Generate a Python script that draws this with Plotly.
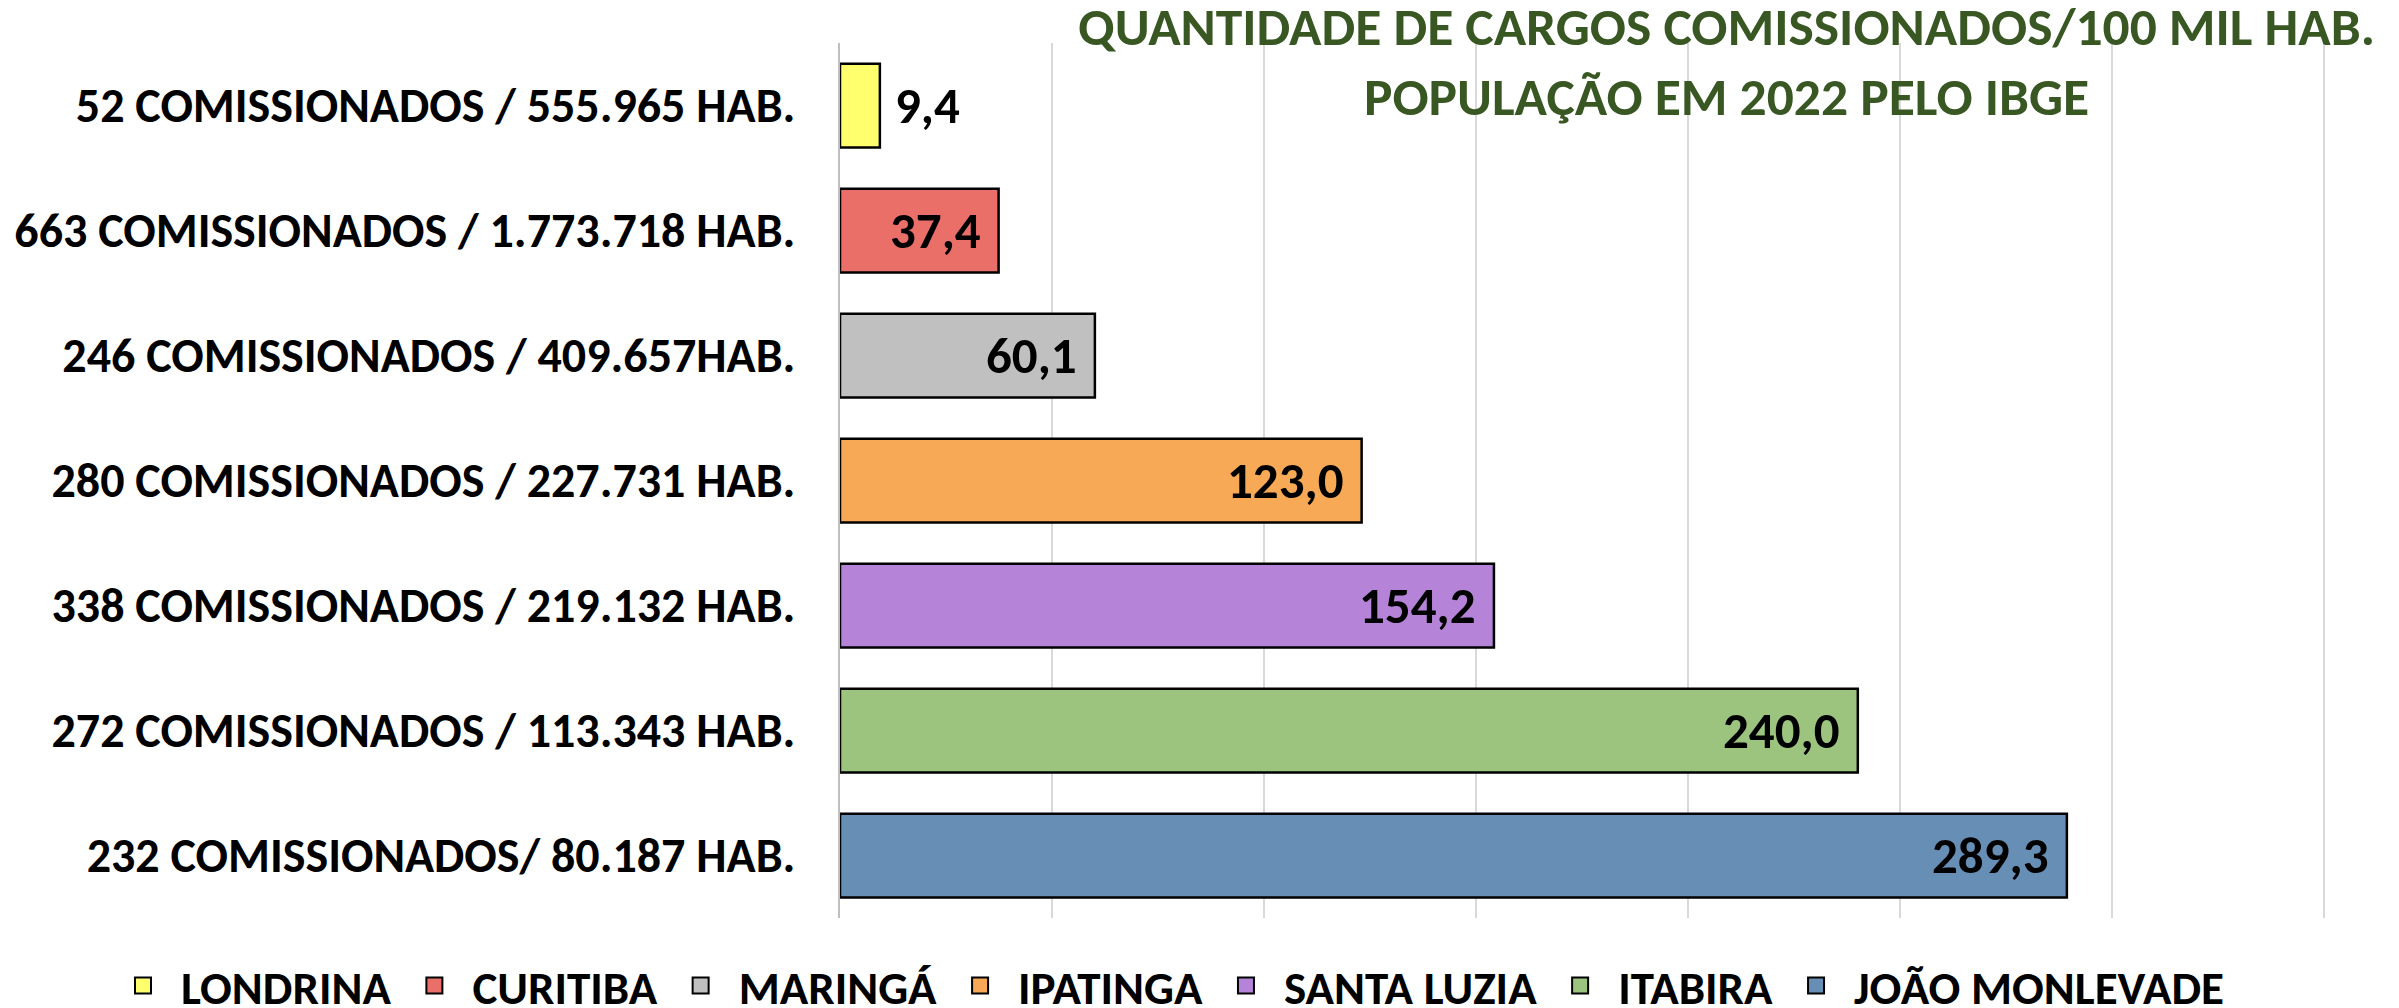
import plotly.graph_objects as go

# ---- data ----
cities = ["LONDRINA", "CURITIBA", "MARINGÁ", "IPATINGA", "SANTA LUZIA", "ITABIRA", "JOÃO MONLEVADE"]
categories = [
    "52 COMISSIONADOS / 555.965 HAB.",
    "663 COMISSIONADOS / 1.773.718 HAB.",
    "246 COMISSIONADOS / 409.657HAB.",
    "280 COMISSIONADOS / 227.731 HAB.",
    "338 COMISSIONADOS / 219.132 HAB.",
    "272 COMISSIONADOS / 113.343 HAB.",
    "232 COMISSIONADOS/ 80.187 HAB.",
]
values = [9.4, 37.4, 60.1, 123.0, 154.2, 240.0, 289.3]
colors = ["#FFFF6E", "#EA6F69", "#C0C0C0", "#F7A955", "#B584D9", "#9CC47F", "#678EB4"]
label_outside = [True, False, False, False, False, False, False]
title_lines = ["QUANTIDADE DE CARGOS COMISSIONADOS/100 MIL HAB.", "POPULAÇÃO EM 2022 PELO IBGE"]

FONT = "Carlito, Lato, sans-serif"

fig = go.Figure()
for city, cat, v, c in zip(cities, categories, values, colors):
    fig.add_trace(go.Bar(
        x=[v], y=[cat], orientation="h", name=city,
        marker=dict(color=c, line=dict(color="#000000", width=2.5)),
        showlegend=False, hoverinfo="x",
    ))
# legend entries (square symbols)
for city, c in zip(cities, colors):
    fig.add_trace(go.Scatter(
        x=[None], y=[None], mode="markers", name=city,
        marker=dict(symbol="square", size=16, color=c, line=dict(color="#000000", width=2)),
        showlegend=True,
    ))

for cat, v, out in zip(categories, values, label_outside):
    fig.add_annotation(
        x=v, y=cat, xref="x", yref="y",
        text=f"{v:.1f}".replace(".", ","),
        showarrow=False,
        xanchor="left" if out else "right",
        xshift=13 if out else -16,
        font=dict(family=FONT, size=51, color="#000000", weight="bold"),
    )

fig.add_annotation(
    x=0.5964, y=0.9789, xref="paper", yref="paper",
    xanchor="center", yanchor="middle", showarrow=False,
    text="<br>".join(title_lines),
    font=dict(family=FONT, size=53.5, color="#385723", weight="bold"),
)

fig.update_layout(
    width=2399, height=1008,
    paper_bgcolor="white", plot_bgcolor="white",
    margin=dict(l=840, r=73, t=43, b=90, autoexpand=False),
    barmode="overlay", bargap=0.33,
    font=dict(family=FONT, color="#000000"),
    xaxis=dict(
        range=[0, 350.4], dtick=50, tick0=0, showgrid=True, gridcolor="#D9D9D9", gridwidth=2,
        showticklabels=False, zeroline=False, showline=False, fixedrange=True, automargin=False,
    ),
    yaxis=dict(
        type="category", autorange="reversed", showgrid=False, automargin=False,
        showline=True, linecolor="#BFBFBF", linewidth=2,
        ticks="", ticklabelstandoff=33,
        tickfont=dict(family=FONT, size=48, color="#000000", weight="bold"),
    ),
    legend=dict(
        orientation="h", x=-0.4946, xref="paper", xanchor="left",
        y=-0.0777, yref="paper", yanchor="middle",
        font=dict(family=FONT, size=47, color="#000000", weight="bold"),
        traceorder="normal", itemwidth=66,
    ),
)

fig.write_html("out.html", config={"displayModeBar": False},
               post_script="document.body.style.margin='0';")
